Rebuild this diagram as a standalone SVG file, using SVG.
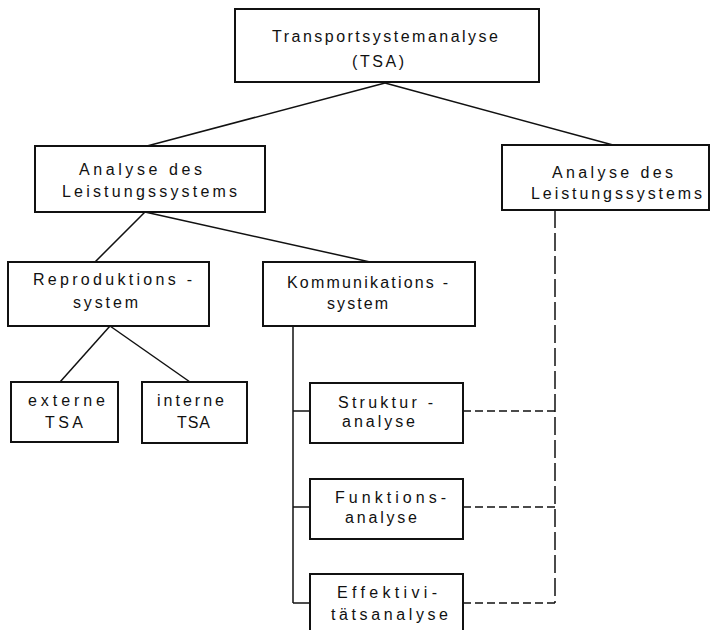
<svg xmlns="http://www.w3.org/2000/svg" width="712" height="630" viewBox="0 0 712 630">
<style>
.box{fill:#fff;stroke:#111;stroke-width:2}
.ln{stroke:#111;stroke-width:1.5;fill:none}
.dh{stroke:#111;stroke-width:1.5;fill:none;stroke-dasharray:8 4}
.dv{stroke:#111;stroke-width:1.5;fill:none;stroke-dasharray:18 5}
text{font-family:"Liberation Sans","DejaVu Sans",sans-serif;font-size:16px;fill:#111}
</style>
<rect width="712" height="630" fill="#fff"/>
<g id="connectors">
<line class="ln" x1="385" y1="83" x2="147" y2="146"/>
<line class="ln" x1="385" y1="83" x2="613" y2="145"/>
<line class="ln" x1="145" y1="212" x2="95" y2="262"/>
<line class="ln" x1="145" y1="212" x2="370" y2="262"/>
<line class="ln" x1="110" y1="326" x2="60" y2="382"/>
<line class="ln" x1="110" y1="326" x2="190" y2="382"/>
<line class="ln" x1="293" y1="326" x2="293" y2="603"/>
<line class="ln" x1="293" y1="411" x2="310" y2="411"/>
<line class="ln" x1="293" y1="507" x2="310" y2="507"/>
<line class="ln" x1="293" y1="603" x2="310" y2="603"/>
<line class="dh" x1="463" y1="411" x2="555" y2="411"/>
<line class="dh" x1="463" y1="507" x2="555" y2="507"/>
<line class="dh" x1="463" y1="603" x2="555" y2="603"/>
<line class="dv" x1="555" y1="210" x2="555" y2="603"/>
</g>
<g id="tsa">
<rect class="box" x="235" y="9" width="304" height="73"/>
<text x="272" y="42" textLength="226" lengthAdjust="spacing">Transportsystemanalyse</text>
<text x="352" y="67" textLength="52" lengthAdjust="spacing">(TSA)</text>
</g>
<g id="leistung-left">
<rect class="box" x="35" y="146" width="230" height="66"/>
<text x="79" y="175" textLength="123" lengthAdjust="spacing">Analyse des</text>
<text x="62" y="197" textLength="175" lengthAdjust="spacing">Leistungssystems</text>
</g>
<g id="leistung-right">
<rect class="box" x="502" y="145" width="207" height="65"/>
<text x="552" y="178" textLength="121" lengthAdjust="spacing">Analyse des</text>
<text x="531" y="199" textLength="171" lengthAdjust="spacing">Leistungssystems</text>
</g>
<g id="reproduktion">
<rect class="box" x="8" y="262" width="201" height="64"/>
<text x="33" y="285" textLength="159" lengthAdjust="spacing">Reproduktions -</text>
<text x="73" y="308" textLength="65" lengthAdjust="spacing">system</text>
</g>
<g id="kommunikation">
<rect class="box" x="263" y="262" width="212" height="64"/>
<text x="287" y="288" textLength="161" lengthAdjust="spacing">Kommunikations -</text>
<text x="327" y="309" textLength="61" lengthAdjust="spacing">system</text>
</g>
<g id="externe">
<rect class="box" x="11" y="382" width="107" height="60"/>
<text x="28" y="406" textLength="77" lengthAdjust="spacing">externe</text>
<text x="45" y="428" textLength="38" lengthAdjust="spacing">TSA</text>
</g>
<g id="interne">
<rect class="box" x="142" y="382" width="105" height="61"/>
<text x="157" y="406" textLength="67" lengthAdjust="spacing">interne</text>
<text x="177" y="428" textLength="33" lengthAdjust="spacing">TSA</text>
</g>
<g id="struktur">
<rect class="box" x="310" y="383" width="153" height="60"/>
<text x="338" y="408" textLength="95" lengthAdjust="spacing">Struktur -</text>
<text x="342" y="427" textLength="73" lengthAdjust="spacing">analyse</text>
</g>
<g id="funktion">
<rect class="box" x="310" y="479" width="153" height="60"/>
<text x="335" y="503" textLength="111" lengthAdjust="spacing">Funktions-</text>
<text x="345" y="523" textLength="72" lengthAdjust="spacing">analyse</text>
</g>
<g id="effektivitaet">
<rect class="box" x="310" y="574" width="153" height="70"/>
<text x="337" y="598" textLength="100" lengthAdjust="spacing">Effektivi-</text>
<text x="331" y="620" textLength="117" lengthAdjust="spacing">tätsanalyse</text>
</g>
</svg>
